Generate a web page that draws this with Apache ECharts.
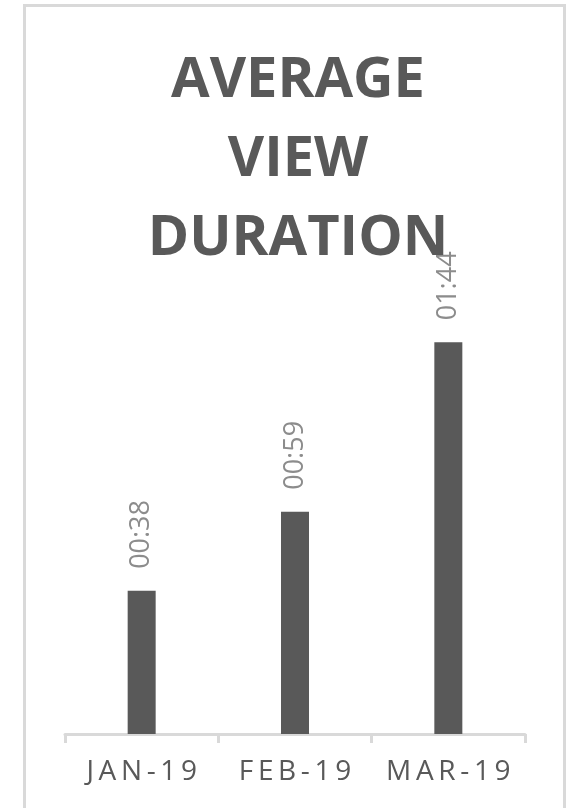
<!DOCTYPE html>
<html>
<head>
<meta charset="utf-8">
<script src="https://cdn.jsdelivr.net/npm/echarts@6/dist/echarts.min.js"></script>
<style>
  html, body { margin: 0; padding: 0; background: #fff; }
  #chart { width: 567px; height: 808px; }
</style>
</head>
<body>
<div id="chart"></div>
<script>
// categories and average view duration (seconds)
const months = ["JAN-19", "FEB-19", "MAR-19"];
const durationSec = [38, 59, 104];
const titleLines = ["AVERAGE", "VIEW", "DURATION"];

function toMinSec(s) {
    const m = Math.floor(s / 60);
    const r = s % 60;
    return String(m).padStart(2, "0") + ":" + String(r).padStart(2, "0");
}

const myChart = echarts.init(document.getElementById("chart"));

const option = {
    backgroundColor: "#ffffff",
    animation: false,
    title: {
        text: titleLines.join("\n"),
        left: 293,
        textAlign: "center",
        top: 37,
        textStyle: {
            fontFamily: "Open Sans",
            fontWeight: "bold",
            fontSize: 56,
            lineHeight: 79,
            color: "#595959",
        },
    },
    graphic: [
        {
            type: "rect",
            shape: { x: 24.5, y: 5.5, width: 540, height: 830 },
            style: { fill: "none", stroke: "#d9d9d9", lineWidth: 3 },
            silent: true,
        },
    ],
    grid: {
        left: 65,
        right: 42,
        top: 282,
        bottom: 74,
    },
    xAxis: {
        type: "category",
        data: months,
        axisLine: { lineStyle: { color: "#d9d9d9", width: 3 } },
        axisTick: { show: true, interval: 0, length: 9, lineStyle: { color: "#d9d9d9", width: 3 } },
        axisLabel: {
            interval: 0,
            margin: 24,
            fontFamily: "Open Sans",
            fontSize: 28,
            color: "#595959",
            formatter: function (v) {
                return v.split("").join("\u2009");
            },
        },
    },
    yAxis: {
        type: "value",
        min: 0,
        max: 120,
        show: false,
    },
    series: [
        {
            type: "bar",
            data: durationSec,
            barWidth: 28,
            itemStyle: { color: "#595959" },
            label: {
                show: true,
                position: "top",
                rotate: 90,
                align: "left",
                verticalAlign: "middle",
                distance: 22,
                fontFamily: "Open Sans",
                fontSize: 27,
                color: "#8c8c8c",
                formatter: function (p) {
                    return toMinSec(p.value);
                },
            },
        },
    ],
};

myChart.setOption(option);
</script>
</body>
</html>
